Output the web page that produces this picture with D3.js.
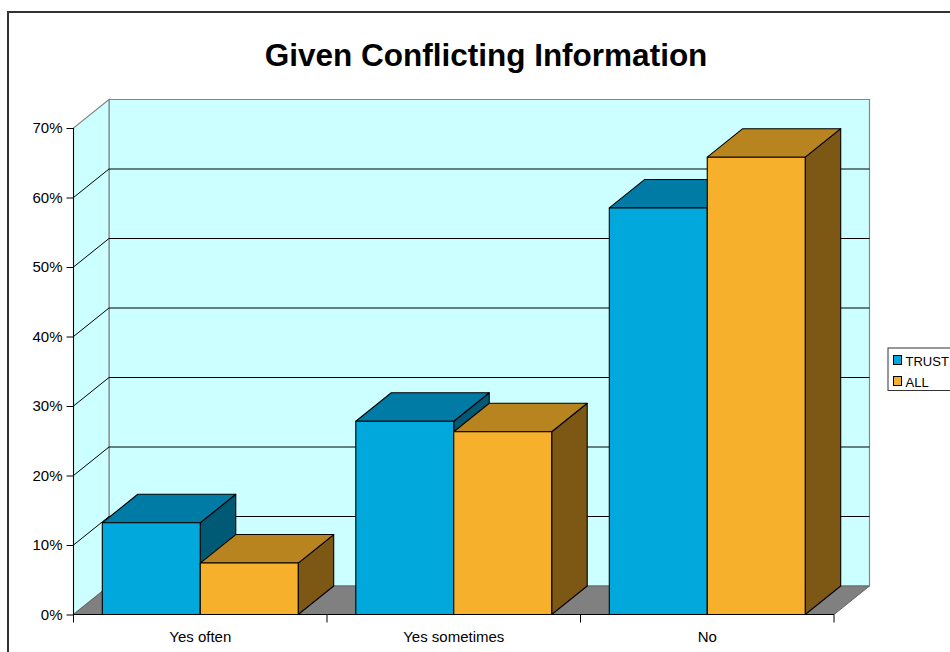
<!DOCTYPE html>
<html>
<head>
<meta charset="utf-8">
<script src="https://cdn.jsdelivr.net/npm/d3@7"></script>
<style>
html, body { margin: 0; padding: 0; background: #fff; overflow: hidden; }
svg { display: block; font-family: "Liberation Sans", Arial, sans-serif; }
</style>
</head>
<body>
<svg id="chart" width="950" height="652"></svg>
<script>
const chartTitle = "Given Conflicting Information";
const categories = ["Yes often", "Yes sometimes", "No"];
const seriesNames = ["TRUST", "ALL"];
const trustValues = [13.2, 27.8, 58.5];
const allValues = [7.4, 26.3, 65.8];
const yTicks = [0, 10, 20, 30, 40, 50, 60, 70];
const seriesFront = ["#00a8dc", "#f6b02c"];
const seriesTop = ["#007ba5", "#b88420"];
const seriesSide = ["#005a75", "#7c5814"];

const svg = d3.select("#chart");

// Oblique offset from the front plane to the back wall.
const depthX = 35.5, depthY = -28.5;

const x = d3.scaleBand().domain(categories).range([73.5, 834]).paddingInner(0).paddingOuter(0);
const y = d3.scaleLinear().domain([0, 70]).range([614.5, 128]);
const inner = d3.scaleBand().domain(seriesNames).range([0, x.bandwidth()]).paddingInner(0).paddingOuter(0.294);

const poly = pts => pts.map(p => p.join(",")).join(" ");
const x0 = x.range()[0], x1 = x.range()[1];
const y0 = y(0), yMax = y(70);

// Outer frame of the chart area
svg.append("rect").attr("x", 8).attr("y", 12).attr("width", 960).attr("height", 700)
  .attr("fill", "#fff").attr("stroke", "#333").attr("stroke-width", 2);

svg.append("text").attr("x", 486).attr("y", 66).attr("text-anchor", "middle")
  .attr("font-size", 31.5).attr("font-weight", "bold").attr("fill", "#000").text(chartTitle);

// Walls and floor
const wall = svg.append("g");
wall.append("polygon")
  .attr("points", poly([[x0 + depthX, y0 + depthY], [x1 + depthX, y0 + depthY], [x1 + depthX, yMax + depthY], [x0 + depthX, yMax + depthY]]))
  .attr("fill", "#ccffff").attr("stroke", "#868686").attr("stroke-width", 1.2);
wall.append("polygon")
  .attr("points", poly([[x0, y0], [x0 + depthX, y0 + depthY], [x0 + depthX, yMax + depthY], [x0, yMax]]))
  .attr("fill", "#ccffff").attr("stroke", "#868686").attr("stroke-width", 1.2);
wall.append("polygon")
  .attr("points", poly([[x0, y0], [x1, y0], [x1 + depthX, y0 + depthY], [x0 + depthX, y0 + depthY]]))
  .attr("fill", "#808080").attr("stroke", "#666").attr("stroke-width", 1);

// Gridlines run along the side wall and across the back wall
yTicks.filter(t => t > 0 && t < 70).forEach(t => {
  wall.append("polyline")
    .attr("points", poly([[x0, y(t)], [x0 + depthX, y(t) + depthY], [x1 + depthX, y(t) + depthY]]))
    .attr("fill", "none").attr("stroke", "#000").attr("stroke-width", 1);
});

// Boxes, front series first so the next one overlaps its side face
const rows = [trustValues, allValues];
const bars = svg.append("g");
categories.forEach((cat, c) => {
  seriesNames.forEach((name, s) => {
    const v = rows[s][c];
    const l = x(cat) + inner(name), r = l + inner.bandwidth(), t = y(v), b = y0;
    const g = bars.append("g").attr("stroke", "#000").attr("stroke-width", 1.1).attr("stroke-linejoin", "round");
    g.append("polygon").attr("fill", seriesSide[s])
      .attr("points", poly([[r, b], [r + depthX, b + depthY], [r + depthX, t + depthY], [r, t]]));
    g.append("polygon").attr("fill", seriesTop[s])
      .attr("points", poly([[l, t], [r, t], [r + depthX, t + depthY], [l + depthX, t + depthY]]));
    g.append("rect").attr("fill", seriesFront[s])
      .attr("x", l).attr("y", t).attr("width", r - l).attr("height", b - t);
  });
});

// Value axis
const yAxis = d3.axisLeft(y).tickValues(yTicks).tickFormat(d => d + "%").tickSize(7).tickPadding(4);
const yG = svg.append("g").attr("transform", `translate(${x0},0)`).call(yAxis);
yG.select(".domain").attr("stroke", "#000").attr("d", `M0,${yMax}V${y0}`);
yG.selectAll("line").attr("stroke", "#000");
yG.selectAll("text").attr("font-size", 15).attr("fill", "#000").attr("font-family", "Liberation Sans, Arial, sans-serif");

// Category axis: ticks fall on the band edges, labels on the band centres
const edges = [x0].concat(categories.map(c => x(c) + x.bandwidth()));
const xG = svg.append("g");
xG.append("line").attr("x1", x0).attr("x2", x1).attr("y1", y0).attr("y2", y0).attr("stroke", "#000").attr("stroke-width", 1.2);
xG.selectAll("line.tick").data(edges).join("line").attr("class", "tick")
  .attr("x1", d => d).attr("x2", d => d).attr("y1", y0).attr("y2", y0 + 8).attr("stroke", "#000");
xG.selectAll("text").data(categories).join("text")
  .attr("x", c => x(c) + x.bandwidth() / 2).attr("y", 641.5).attr("text-anchor", "middle")
  .attr("font-size", 15).attr("fill", "#000").text(c => c);

// Legend
const legend = svg.append("g");
legend.append("rect").attr("x", 888).attr("y", 348).attr("width", 80).attr("height", 42.5)
  .attr("fill", "#fff").attr("stroke", "#333").attr("stroke-width", 1);
seriesNames.forEach((name, i) => {
  const ly = 360 + i * 21;
  legend.append("rect").attr("x", 893.5).attr("y", ly - 4.5).attr("width", 8).attr("height", 9)
    .attr("fill", seriesFront[i]).attr("stroke", "#000").attr("stroke-width", 1);
  legend.append("text").attr("x", 905.5).attr("y", ly + 5.5).attr("font-size", 13).attr("fill", "#000").text(name);
});
</script>
</body>
</html>
